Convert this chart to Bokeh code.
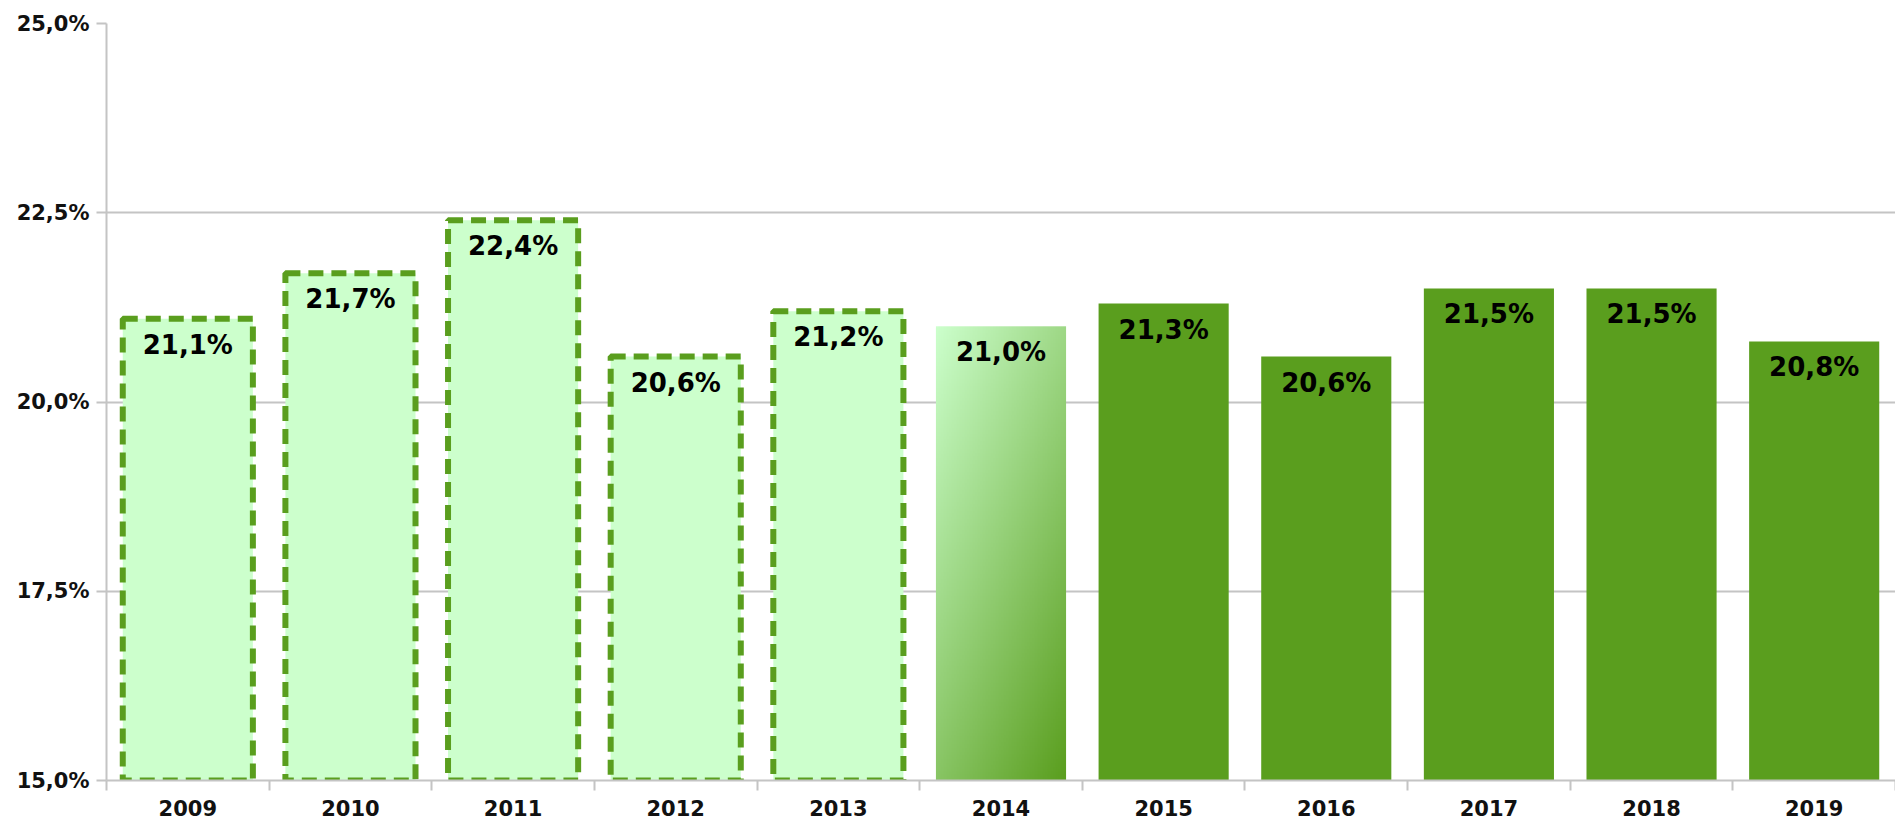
import numpy as np
from bokeh.plotting import figure
from bokeh.models import Range1d, FixedTicker, CustomJSTickFormatter, ColumnDataSource
from bokeh.core.properties import value
from bokeh.embed import file_html
from bokeh.resources import INLINE

# ---- data ----
years = ["2009", "2010", "2011", "2012", "2013", "2014", "2015", "2016", "2017", "2018", "2019"]
shares = [21.1, 21.7, 22.4, 20.6, 21.2, 21.0, 21.3, 20.6, 21.5, 21.5, 20.8]
kind = ["dashed", "dashed", "dashed", "dashed", "dashed", "gradient",
        "solid", "solid", "solid", "solid", "solid"]
y_ticks = [15.0, 17.5, 20.0, 22.5, 25.0]
y_min, y_max = 15.0, 25.0

LIGHT = "#CCFFCC"
GREEN = "#5A9E1E"
GRID = "#C4C4C4"
FONT = "DejaVu Sans"

xs = list(range(len(years)))
labels = [f"{v:.1f}".replace(".", ",") + "%" for v in shares]

p = figure(width=1895, height=820,
           x_range=Range1d(-0.5, len(years) - 0.5), y_range=Range1d(y_min, y_max),
           output_backend="svg", toolbar_location=None,
           min_border_left=106, min_border_top=23, min_border_right=0, min_border_bottom=40)
p.outline_line_color = None
p.background_fill_color = "white"

# dashed bars
d_idx = [i for i, k in enumerate(kind) if k == "dashed"]
src_d = ColumnDataSource(dict(x=[xs[i] for i in d_idx], top=[shares[i] for i in d_idx]))
p.vbar(x="x", top="top", bottom=y_min, width=0.8, source=src_d,
       fill_color=LIGHT, line_color=GREEN, line_width=6, line_dash="15 8")

# solid bars
s_idx = [i for i, k in enumerate(kind) if k == "solid"]
src_s = ColumnDataSource(dict(x=[xs[i] for i in s_idx], top=[shares[i] for i in s_idx]))
p.vbar(x="x", top="top", bottom=y_min, width=0.8, source=src_s,
       fill_color=GREEN, line_color=None)

# gradient bar
g_idx = [i for i, k in enumerate(kind) if k == "gradient"]
c0 = np.array([0xCC, 0xFF, 0xCC], dtype=float)
c1 = np.array([0x5A, 0x9E, 0x1E], dtype=float)
H, W = 240, 80
u = np.linspace(0, 1, W)[None, :]
v = np.linspace(1, 0, H)[:, None]  # row 0 = bottom -> v=1
t = (u * 0.4 + v * 0.6)
img = np.empty((H, W), dtype=np.uint32)
view = img.view(dtype=np.uint8).reshape((H, W, 4))
for ch in range(3):
    view[:, :, ch] = (c0[ch] + (c1[ch] - c0[ch]) * t).astype(np.uint8)
view[:, :, 3] = 255
for i in g_idx:
    p.image_rgba(image=[img], x=xs[i] - 0.4, y=y_min, dw=0.8, dh=shares[i] - y_min)

# value labels
p.text(x=xs, y=shares, text=labels, text_align="center", text_baseline="top",
       y_offset=11, text_font=value(FONT), text_font_style="bold",
       text_font_size="26px", text_color="#000000")

# grid
p.xgrid.visible = False
p.ygrid.ticker = FixedTicker(ticks=y_ticks)
p.ygrid.grid_line_color = GRID
p.ygrid.grid_line_width = 2

# y axis
p.yaxis.ticker = FixedTicker(ticks=y_ticks)
p.yaxis.formatter = CustomJSTickFormatter(code="return tick.toFixed(1).replace('.', ',') + '%';")
p.yaxis.axis_line_color = GRID
p.yaxis.axis_line_width = 2
p.yaxis.major_tick_line_color = GRID
p.yaxis.major_tick_line_width = 2
p.yaxis.major_tick_out = 10
p.yaxis.major_tick_in = 0
p.yaxis.minor_tick_line_color = None
p.yaxis.major_label_standoff = 7
p.yaxis.major_label_text_font = FONT
p.yaxis.major_label_text_font_style = "bold"
p.yaxis.major_label_text_font_size = "21px"
p.yaxis.major_label_text_color = "#111111"

# x axis
p.xaxis.ticker = FixedTicker(ticks=xs, minor_ticks=[i - 0.5 for i in range(len(years) + 1)])
p.xaxis.major_label_overrides = {i: y for i, y in enumerate(years)}
p.xaxis.axis_line_color = GRID
p.xaxis.axis_line_width = 2
p.xaxis.major_tick_line_color = None
p.xaxis.major_tick_out = 0
p.xaxis.major_tick_in = 0
p.xaxis.minor_tick_line_color = GRID
p.xaxis.minor_tick_line_width = 2
p.xaxis.minor_tick_out = 10
p.xaxis.minor_tick_in = 0
p.xaxis.major_label_standoff = 9
p.xaxis.major_label_text_font = FONT
p.xaxis.major_label_text_font_style = "bold"
p.xaxis.major_label_text_font_size = "21px"
p.xaxis.major_label_text_color = "#111111"

open("out.html", "w").write(file_html(p, INLINE))
